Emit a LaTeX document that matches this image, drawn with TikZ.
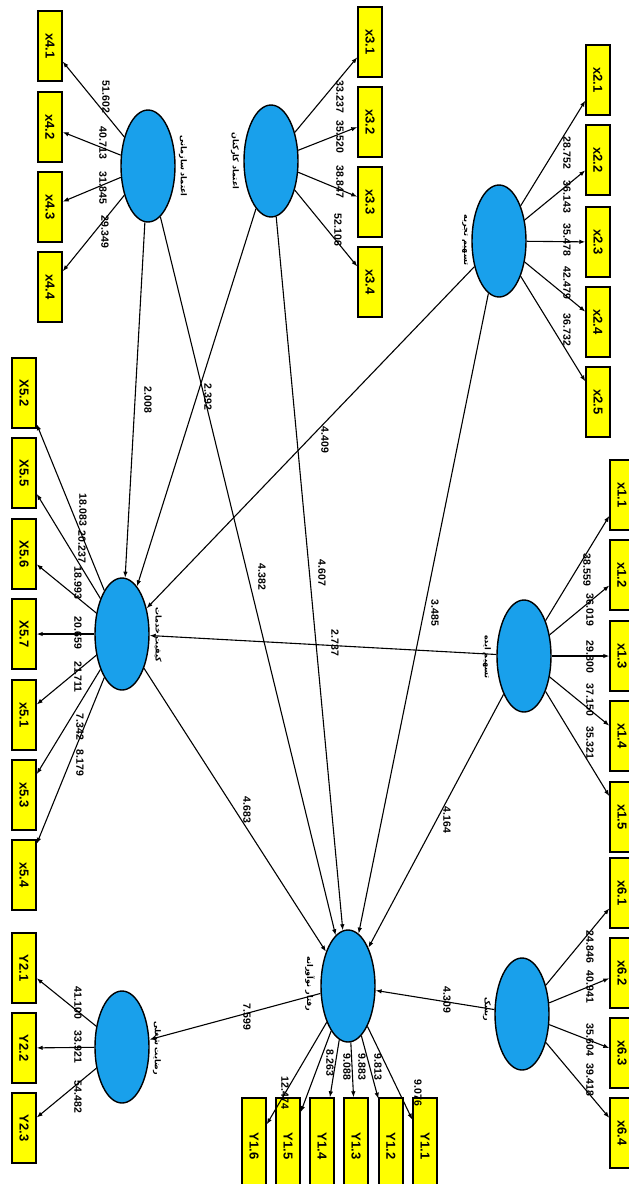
\documentclass[tikz,border=0pt]{standalone}
\usepackage{fontspec}
\setmainfont{Liberation Sans}
\newfontfamily\arabicfont[Script=Arabic]{DejaVu Sans}
\TeXXeTstate=1
\usetikzlibrary{shapes.geometric,arrows.meta}
\definecolor{lvblue}{RGB}{25,160,235}
\definecolor{mvyellow}{RGB}{255,255,0}
\newcommand\rb[1]{\rotatebox{-90}{#1}}
\tikzset{
 mv/.style={draw=black, line width=1.4pt, fill=mvyellow, minimum width=24pt, minimum height=70pt, inner sep=0pt, font=\bfseries\fontsize{13}{13}\selectfont},
 mvlong/.style={mv, minimum height=96pt},
 lv/.style={ellipse, draw=black, line width=1.4pt, fill=lvblue, minimum width=54pt, minimum height=112pt, inner sep=0pt},
 lvlabel/.style={rotate=-90, font=\arabicfont\bfseries\fontsize{8}{8}\selectfont, inner sep=0pt},
 num/.style={rotate=-90, font=\bfseries\fontsize{10.5}{10.5}\selectfont, inner sep=0pt},
 con/.style={line width=1.1pt, -{Latex[length=6pt,width=4.5pt]}},
}
\begin{document}
\begin{tikzpicture}[x=1pt,y=-1pt]
\useasboundingbox (0,0) rectangle (629,1184);
% latent variables
\node[lv] (A) at (148,166) {};
\node[lv] (B) at (271,161) {};
\node[lv] (C) at (499,241) {};
\node[lv] (D) at (122,634) {};
\node[lv] (E) at (524,656) {};
\node[lv] (F) at (348,986) {};
\node[lv] (G) at (122,1047) {};
\node[lv] (H) at (522,1014) {};
% latent labels
\node[lvlabel] (lA) at (183,166) {\beginR اعتماد سازمانی\endR};
\node[lvlabel] (lB) at (235,161) {\beginR اعتماد کارکنان\endR};
\node[lvlabel] (lC) at (465,240) {\beginR تسهیم تجربه\endR};
\node[lvlabel] (lD) at (158,635) {\beginR کیفیت خدمات\endR};
\node[lvlabel] (lE) at (487,657) {\beginR تسهیم ایده\endR};
\node[lvlabel] (lF) at (310,984) {\beginR رفتار نوآورانه\endR};
\node[lvlabel] (lG) at (157,1048) {\beginR رضایت شغلی\endR};
\node[lvlabel] (lH) at (487,1009) {\beginR ریسک\endR};
% indicators x4
\node[mv] (x41) at (50,46) {\rb{x4.1}};
\node[mv] (x42) at (50,127) {\rb{x4.2}};
\node[mv] (x43) at (50,207) {\rb{x4.3}};
\node[mv] (x44) at (50,287) {\rb{x4.4}};
% x3
\node[mv] (x31) at (370,42) {\rb{x3.1}};
\node[mv] (x32) at (370,122) {\rb{x3.2}};
\node[mv] (x33) at (370,202) {\rb{x3.3}};
\node[mv] (x34) at (370,282) {\rb{x3.4}};
% x2
\node[mv] (x21) at (598,80) {\rb{x2.1}};
\node[mv] (x22) at (598,160) {\rb{x2.2}};
\node[mv] (x23) at (598,242) {\rb{x2.3}};
\node[mv] (x24) at (598,322) {\rb{x2.4}};
\node[mv] (x25) at (598,402) {\rb{x2.5}};
% x5
\node[mv] (x52) at (24,393) {\rb{X5.2}};
\node[mv] (x55) at (24,473) {\rb{X5.5}};
\node[mv] (x56) at (24,554) {\rb{X5.6}};
\node[mv] (x57) at (24,634) {\rb{X5.7}};
\node[mv] (x51) at (24,715) {\rb{x5.1}};
\node[mv] (x53) at (24,795) {\rb{x5.3}};
\node[mv] (x54) at (24,875) {\rb{x5.4}};
% x1
\node[mv] (x11) at (622,495) {\rb{x1.1}};
\node[mv] (x12) at (622,575) {\rb{x1.2}};
\node[mv] (x13) at (622,656) {\rb{x1.3}};
\node[mv] (x14) at (622,736) {\rb{x1.4}};
\node[mv] (x15) at (622,817) {\rb{x1.5}};
% x6
\node[mv] (x61) at (622,893) {\rb{x6.1}};
\node[mv] (x62) at (622,973) {\rb{x6.2}};
\node[mv] (x63) at (622,1053) {\rb{x6.3}};
\node[mv] (x64) at (622,1133) {\rb{x6.4}};
% Y1 (cut by the lower edge)
\node[mvlong] (y11) at (425,1146) {\rb{Y1.1}};
\node[mvlong] (y12) at (391,1146) {\rb{Y1.2}};
\node[mvlong] (y13) at (356,1146) {\rb{Y1.3}};
\node[mvlong] (y14) at (322,1146) {\rb{Y1.4}};
\node[mvlong] (y15) at (288,1146) {\rb{Y1.5}};
\node[mvlong] (y16) at (254,1146) {\rb{Y1.6}};
% Y2
\node[mv] (y21) at (24,968) {\rb{Y2.1}};
\node[mv] (y22) at (24,1048) {\rb{Y2.2}};
\node[mv] (y23) at (24,1128) {\rb{Y2.3}};
% measurement arrows
\foreach \t in {x41,x42,x43,x44} \draw[con] (A) -- (\t);
\foreach \t in {x31,x32,x33,x34} \draw[con] (B) -- (\t);
\foreach \t in {x21,x22,x23,x24,x25} \draw[con] (C) -- (\t);
\foreach \t in {x52,x55,x56,x57,x51,x53,x54} \draw[con] (D) -- (\t);
\foreach \t in {x11,x12,x13,x14,x15} \draw[con] (E) -- (\t);
\foreach \t in {x61,x62,x63,x64} \draw[con] (H) -- (\t);
\foreach \t in {y11,y12,y13,y14,y15,y16} \draw[con] (F) -- (\t);
\foreach \t in {y21,y22,y23} \draw[con] (G) -- (\t);
% structural paths
\draw[con] (A) -- (D);
\draw[con] (A) -- (F);
\draw[con] (B) -- (D);
\draw[con] (B) -- (F);
\draw[con] (C) -- (D);
\draw[con] (C) -- (F);
\draw[con] (E) -- (D);
\draw[con] (D) -- (F);
\draw[con] (E) -- (F);
\draw[con] (H) -- (F);
\draw[con] (F) -- (G);
% loading values
\node[num] at (106,97) {51.602};
\node[num] at (103,143) {40.713};
\node[num] at (103,188) {31.845};
\node[num] at (105,232) {29.349};
\node[num] at (340,97) {33.237};
\node[num] at (340,137) {35.520};
\node[num] at (340,182) {38.847};
\node[num] at (338,230) {52.106};
\node[num] at (567,153) {28.752};
\node[num] at (567,197) {36.143};
\node[num] at (567,240) {35.478};
\node[num] at (567,283) {42.479};
\node[num] at (567,330) {36.732};
\node[num] at (83,510) {18.083};
\node[num] at (82,547) {20.237};
\node[num] at (78,583) {18.993};
\node[num] at (78,633) {20.659};
\node[num] at (78,677) {21.711};
\node[num] at (80,727) {7.342};
\node[num] at (80,763) {8.179};
\node[num] at (587,570) {38.559};
\node[num] at (590,610) {36.019};
\node[num] at (590,657) {29.800};
\node[num] at (590,700) {37.150};
\node[num] at (590,743) {35.321};
\node[num] at (590,947) {24.846};
\node[num] at (590,987) {40.941};
\node[num] at (590,1040) {35.604};
\node[num] at (590,1080) {39.418};
\node[num] at (285,1093) {12.474};
\node[num] at (330,1063) {8.263};
\node[num] at (347,1067) {9.088};
\node[num] at (362,1067) {9.883};
\node[num] at (378,1067) {9.813};
\node[num] at (418,1093) {9.076};
\node[num] at (78,1003) {41.100};
\node[num] at (78,1047) {33.921};
\node[num] at (78,1097) {54.482};
% path coefficients
\node[num] at (148,400) {2.008};
\node[num] at (208,397) {2.392};
\node[num] at (325,440) {4.409};
\node[num] at (262,577) {4.382};
\node[num] at (322,573) {4.607};
\node[num] at (435,613) {3.485};
\node[num] at (335,643) {2.737};
\node[num] at (247,810) {4.683};
\node[num] at (447,820) {4.164};
\node[num] at (447,1000) {4.309};
\node[num] at (247,1017) {7.599};
\end{tikzpicture}
\end{document}
